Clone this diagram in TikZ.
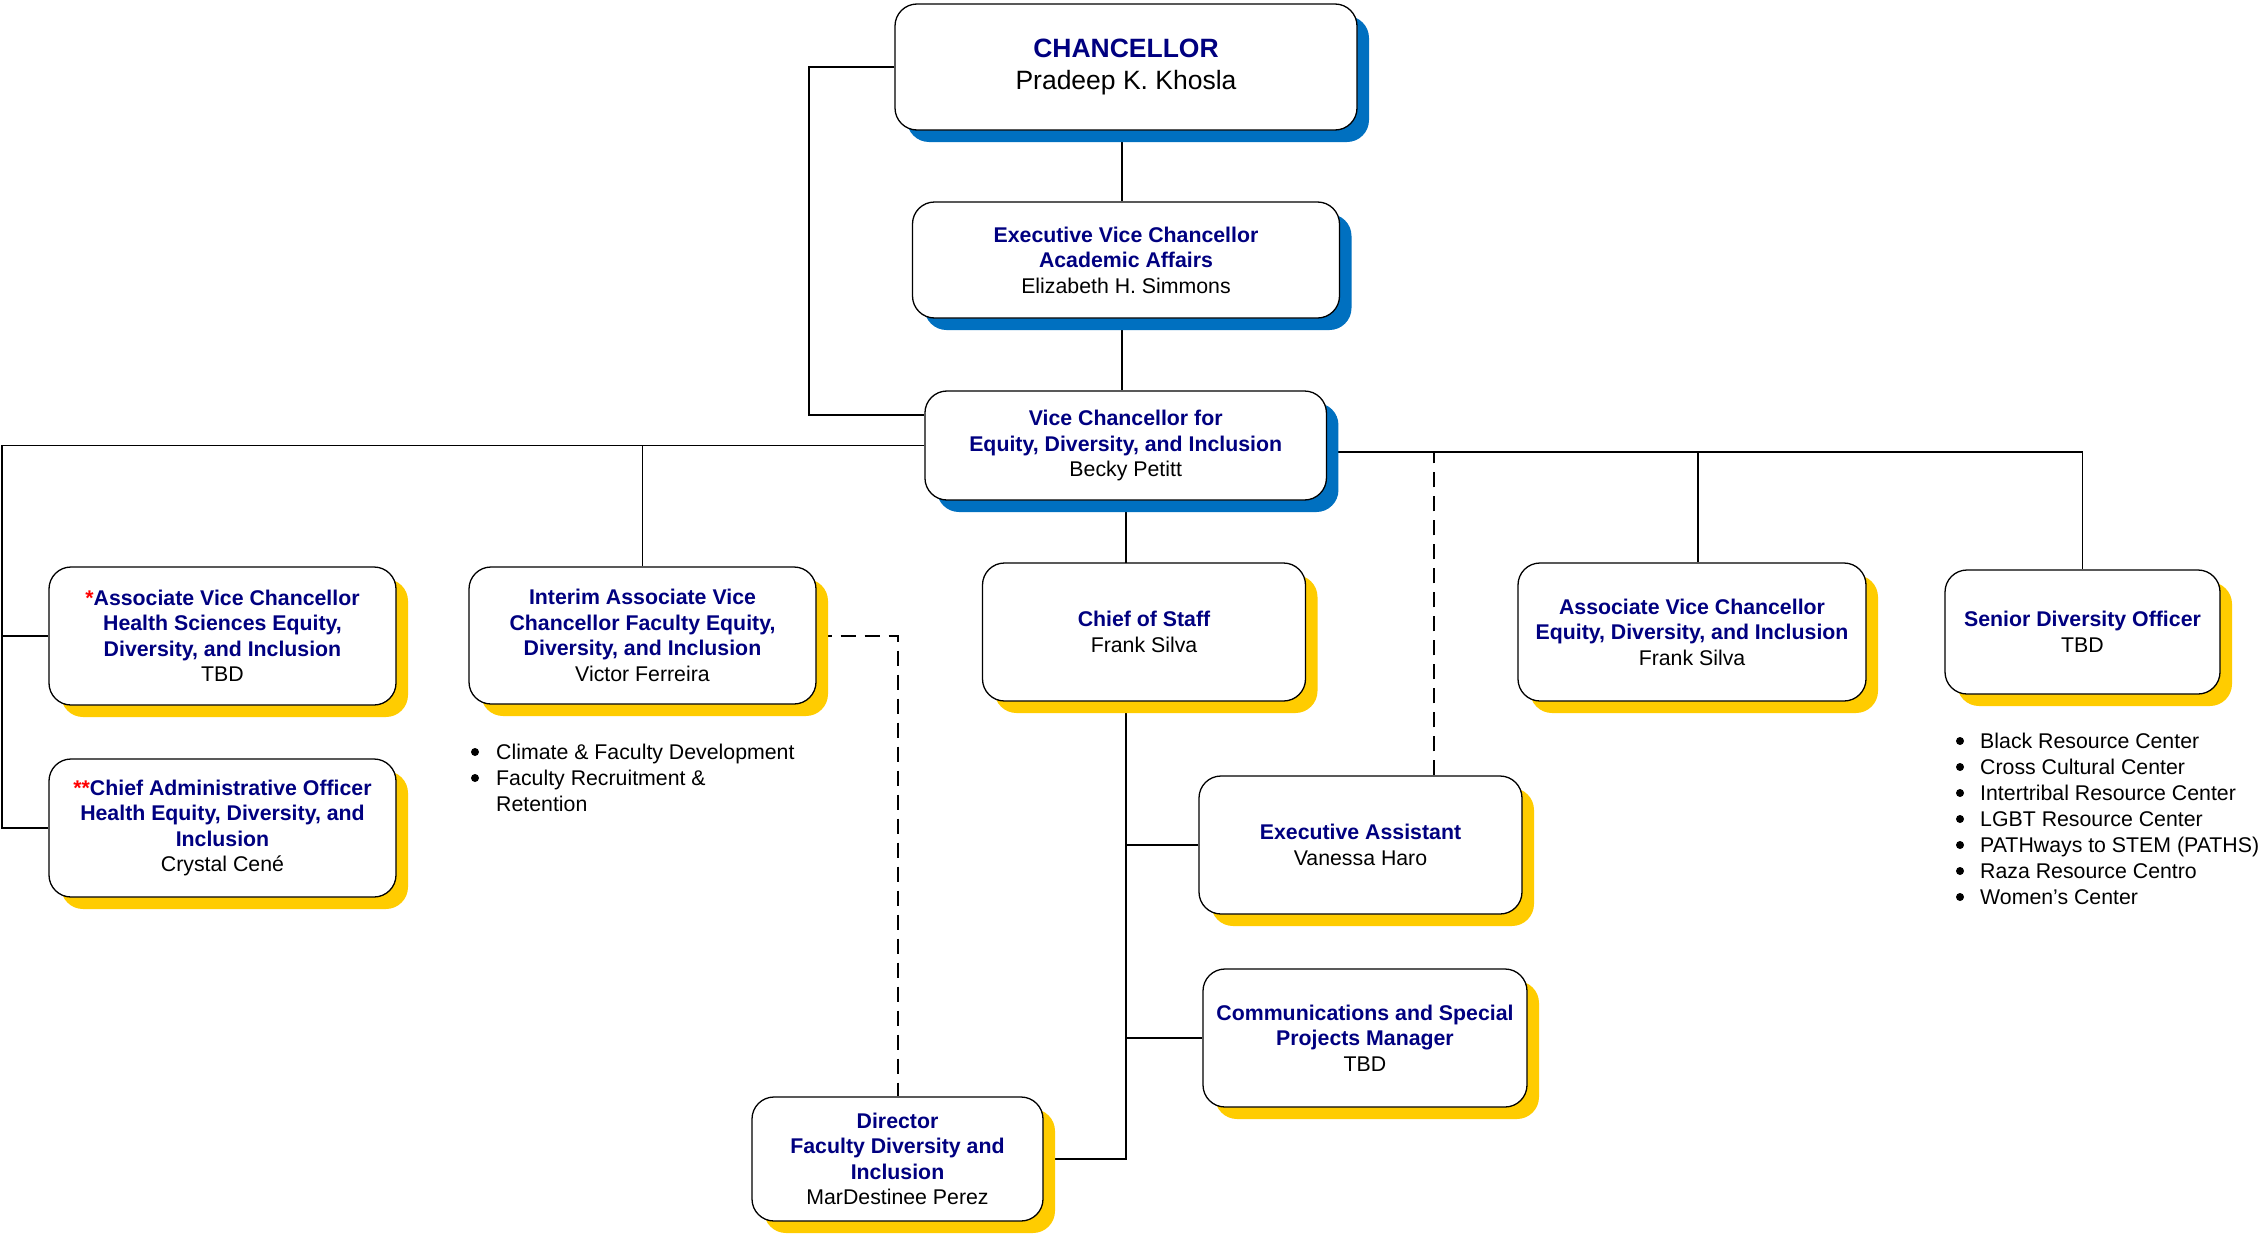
\documentclass[tikz,border=0pt]{standalone}
\usepackage{fontspec}
\setmainfont{Liberation Sans}
\usetikzlibrary{shadows,backgrounds}
\definecolor{navyc}{RGB}{0,0,128}
\definecolor{blsh}{RGB}{0,112,192}
\definecolor{ylsh}{RGB}{255,204,0}
\newcommand{\boxtitle}[1]{{\bfseries\color{navyc}#1}}
\begin{document}
\begin{tikzpicture}[x=1pt,y=-1pt,
  orgbox/.style={draw=black, line width=1.3pt, fill=white, rounded corners=22pt,
    inner sep=0pt, align=center, font=\fontsize{21.3}{25.5}\selectfont},
  bluebox/.style={orgbox, drop shadow={shadow xshift=12pt, shadow yshift=-12pt, fill=blsh, opacity=1}},
  goldbox/.style={orgbox, drop shadow={shadow xshift=12pt, shadow yshift=-12pt, fill=ylsh, opacity=1}},
  link/.style={line width=1.6pt},
  dlink/.style={line width=2pt, dash pattern=on 15pt off 9pt},
  listitem/.style={anchor=west, inner sep=0pt, text height=15.3pt, text depth=0pt,
    font=\fontsize{21.3}{26}\selectfont},
  bulletdot/.style={fill=black}
]
\useasboundingbox (0,0) rectangle (2261,1234);

% boxes
\node[bluebox, minimum width=462pt, minimum height=126pt, font=\fontsize{26.5}{32}\selectfont]
  (ch) at (1126,67) {\boxtitle{CHANCELLOR}\\Pradeep K. Khosla};
\node[bluebox, minimum width=427pt, minimum height=116pt]
  (evc) at (1126,260) {\boxtitle{Executive Vice Chancellor}\\\boxtitle{Academic Affairs}\\Elizabeth H. Simmons};
\node[bluebox, minimum width=401.5pt, minimum height=109pt]
  (vc) at (1125.7,445.5) {\boxtitle{Vice Chancellor for}\\\boxtitle{Equity, Diversity, and Inclusion}\\Becky Petitt};

\node[goldbox, minimum width=347pt, minimum height=138pt]
  (b1) at (222.5,636) {\boxtitle{\textcolor{red}{*}Associate Vice Chancellor}\\\boxtitle{Health Sciences Equity,}\\\boxtitle{Diversity, and Inclusion}\\TBD};
\node[goldbox, minimum width=347pt, minimum height=138pt]
  (b2) at (222.5,828) {\boxtitle{\textcolor{red}{**}Chief Administrative Officer}\\\boxtitle{Health Equity, Diversity, and}\\\boxtitle{Inclusion}\\Crystal Cené};
\node[goldbox, minimum width=347pt, minimum height=137pt]
  (im) at (642.5,635.5) {\boxtitle{Interim Associate Vice}\\\boxtitle{Chancellor Faculty Equity,}\\\boxtitle{Diversity, and Inclusion}\\Victor Ferreira};
\node[goldbox, minimum width=323pt, minimum height=138pt]
  (cos) at (1144,632) {\boxtitle{Chief of Staff}\\Frank Silva};
\node[goldbox, minimum width=323pt, minimum height=138pt]
  (ea) at (1360.5,845) {\boxtitle{Executive Assistant}\\Vanessa Haro};
\node[goldbox, minimum width=324pt, minimum height=138pt]
  (cm) at (1365,1038) {\boxtitle{Communications and Special}\\\boxtitle{Projects Manager}\\TBD};
\node[goldbox, minimum width=291pt, minimum height=124pt]
  (dr) at (897.5,1159) {\boxtitle{Director}\\\boxtitle{Faculty Diversity and}\\\boxtitle{Inclusion}\\MarDestinee Perez};
\node[goldbox, minimum width=348pt, minimum height=138pt]
  (av) at (1692,632) {\boxtitle{Associate Vice Chancellor}\\\boxtitle{Equity, Diversity, and Inclusion}\\Frank Silva};
\node[goldbox, minimum width=275pt, minimum height=124pt]
  (sd) at (2082.5,632) {\boxtitle{Senior Diversity Officer}\\TBD};

% bullet lists
\node[listitem] (l1) at (496,752) {Climate \& Faculty Development};
\node[listitem] (l2) at (496,778) {Faculty Recruitment \&};
\node[listitem] (l3) at (496,804) {Retention};
\foreach \n in {l1,l2} \fill[bulletdot] ([xshift=-21pt]\n.west) circle (4pt);

\node[listitem] (r1) at (1980,741) {Black Resource Center};
\node[listitem] (r2) at (1980,767) {Cross Cultural Center};
\node[listitem] (r3) at (1980,793) {Intertribal Resource Center};
\node[listitem] (r4) at (1980,819) {LGBT Resource Center};
\node[listitem] (r5) at (1980,845) {PATHways to STEM (PATHS)};
\node[listitem] (r6) at (1980,871) {Raza Resource Centro};
\node[listitem] (r7) at (1980,897) {Women’s Center};
\foreach \n in {r1,r2,r3,r4,r5,r6,r7} \fill[bulletdot] ([xshift=-20pt]\n.west) circle (4pt);

\coordinate (chl) at (809,67);
\coordinate (lx) at (2,445.5);
\coordinate (rr) at (1326.5,452);

\begin{pgfonlayer}{background}
\fill[white] (0,0) rectangle (2261,1234);
\draw[link] ([xshift=-4pt]ch.south) -- ([xshift=-4pt]evc.north);
\draw[link] ([xshift=-4pt]evc.south) -- ([xshift=-4pt]evc.south |- vc.north);
\draw[link] (ch.west) -- (chl) |- ([yshift=30.5pt]vc.west);
\draw[link] (vc.west) -- (lx) |- (b2.west);
\draw[link] (lx |- b1.west) -- (b1.west);
\draw[link] (im.north) -- (im.north |- vc.west);
\draw[link] (rr) -| (sd.north);
\draw[link] ([xshift=6pt]av.north) -- ([xshift=6pt]av.north |- rr);
\draw[dlink] ([xshift=73.5pt]ea.north) -- ([xshift=73.5pt]ea.north |- rr);
\draw[link] (vc.south) -- (vc.south |- dr.east) -- (dr.east);
\draw[link] (vc.south |- ea.west) -- (ea.west);
\draw[link] (vc.south |- cm.west) -- (cm.west);
\draw[dlink] (im.east) -| (dr.north);
\end{pgfonlayer}
\end{tikzpicture}
\end{document}
